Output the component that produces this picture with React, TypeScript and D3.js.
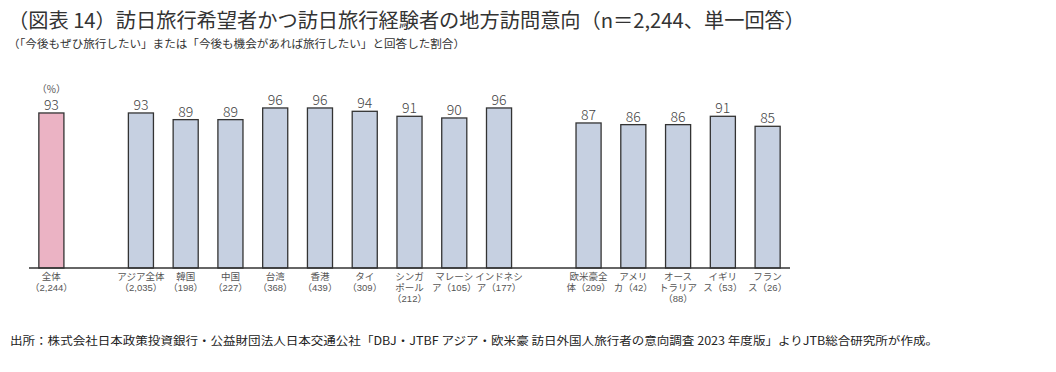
import * as d3 from 'd3';
import React from 'react';

// chart data
const categories = [
  '全体', '', 'アジア全体', '韓国', '中国', '台湾', '香港', 'タイ', 'シンガポール', 'マレーシア', 'インドネシア',
  ' ', '欧米豪全体', 'アメリカ', 'オーストラリア', 'イギリス', 'フランス',
];
const values = [93, null, 93, 89, 89, 96, 96, 94, 91, 90, 96, null, 87, 86, 86, 91, 85];
const labelLines = [
  ['全体', '（2,244）'],
  [],
  ['アジア全体', '（2,035）'],
  ['韓国', '（198）'],
  ['中国', '（227）'],
  ['台湾', '（368）'],
  ['香港', '（439）'],
  ['タイ', '（309）'],
  ['シンガ', 'ポール', '（212）'],
  ['マレーシ', 'ア（105）'],
  ['インドネシ', 'ア（177）'],
  [],
  ['欧米豪全', '体（209）'],
  ['アメリ', 'カ（42）'],
  ['オース', 'トラリア', '（88）'],
  ['イギリ', 'ス（53）'],
  ['フラン', 'ス（26）'],
];

const title = '（図表 14）訪日旅行希望者かつ訪日旅行経験者の地方訪問意向（n＝2,244、単一回答）';
const subtitle = '（「今後もぜひ旅行したい」または「今後も機会があれば旅行したい」と回答した割合）';
const source = '出所：株式会社日本政策投資銀行・公益財団法人日本交通公社「DBJ・JTBF アジア・欧米豪 訪日外国人旅行者の意向調査 2023 年度版」よりJTB総合研究所が作成。';

const W = 1056;
const H = 372;
const font = '"Noto Sans CJK JP", "Noto Sans", sans-serif';
const labelFont = '"Liberation Sans", "Noto Sans CJK JP", sans-serif';

export default function App() {
  const x = d3.scaleBand<number>()
    .domain(categories.map((_, i) => i))
    .range([29, 790])
    .paddingInner(0.44)
    .paddingOuter(0.22);
  const y = d3.scaleLinear().domain([0, 100]).range([268, 101.3]);

  return (
    <svg width={W} height={H} style={{ position: 'absolute', left: 0, top: 0, background: '#fff' }}>
      <text x={8} y={28} fontFamily={font} fontSize={20} fill="#333" textLength={797} lengthAdjust="spacingAndGlyphs">{title}</text>
      <text x={8} y={48} fontFamily={font} fontSize={11} fill="#333" textLength={457} lengthAdjust="spacingAndGlyphs">{subtitle}</text>

      {values.map((v, i) => v == null ? null : (
        <g key={i}>
          <rect
            x={x(i)}
            y={y(v)}
            width={x.bandwidth()}
            height={y(0) - y(v)}
            fill={i === 0 ? '#ebb3c4' : '#c6d0e1'}
            stroke="#333"
            strokeWidth={1.3}
          />
          <text
            x={(x(i) as number) + x.bandwidth() / 2}
            y={y(v) - 3}
            textAnchor="middle"
            fontFamily={font}
            fontSize={14}
            fontWeight={300}
            fill="#444"
          >{v}</text>
        </g>
      ))}

      <text x={(x(0) as number) + x.bandwidth() / 2} y={93} textAnchor="middle" fontFamily={font} fontSize={10} fill="#555">（%）</text>

      <line x1={29} x2={790} y1={268} y2={268} stroke="#333" strokeWidth={1.3} />

      {labelLines.map((lines, i) => (
        <g key={'l' + i}>
          {lines.map((t, j) => (
            <text
              key={j}
              x={(x(i) as number) + x.bandwidth() / 2}
              y={280 + j * 11}
              textAnchor="middle"
              fontFamily={labelFont}
              fontSize={9.5}
              fill="#555"
            >{t}</text>
          ))}
        </g>
      ))}

      <text x={10} y={345} fontFamily={font} fontSize={11.5} fill="#222" textLength={928} lengthAdjust="spacingAndGlyphs">{source}</text>
    </svg>
  );
}
